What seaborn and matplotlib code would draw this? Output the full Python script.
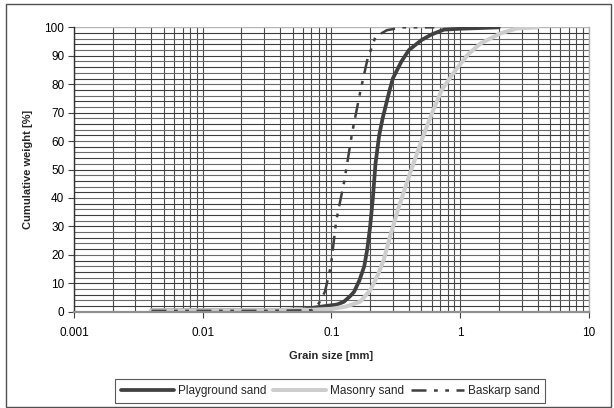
import matplotlib
matplotlib.use("Agg")
import matplotlib.pyplot as plt
import matplotlib.patches as mpatches
from matplotlib.ticker import FixedLocator, NullFormatter
import seaborn as sns
import pandas as pd
import numpy as np

sns.set_theme(style="white")
plt.rcParams['font.family'] = ['Liberation Sans', 'DejaVu Sans']

# ---- data ----
playground_x = [0.004, 0.03, 0.06, 0.075, 0.09, 0.11, 0.125, 0.14, 0.15, 0.165, 0.18, 0.19, 0.2, 0.21,
                0.22, 0.235, 0.25, 0.28, 0.3, 0.35, 0.4, 0.5, 0.6, 0.75, 1.0, 2.0]
playground_y = [0.5, 0.5, 0.8, 1.5, 2.0, 2.5, 3.5, 5.5, 7.0, 11.0, 16.0, 22.0, 30.0, 40.0,
                52.0, 62.0, 68.0, 77.0, 82.0, 88.0, 92.0, 95.5, 97.5, 99.2, 99.5, 100.0]

masonry_x = [0.004, 0.03, 0.07, 0.1, 0.13, 0.167, 0.2, 0.23, 0.254, 0.29, 0.335, 0.4, 0.5, 0.59,
             0.72, 0.89, 1.0, 1.17, 1.45, 2.07, 2.75, 4.0]
masonry_y = [0.5, 0.5, 0.7, 1.0, 1.8, 3.5, 7.5, 13.0, 18.0, 27.5, 37.0, 47.5, 60.0, 68.6,
             78.0, 84.0, 87.0, 90.8, 94.4, 97.9, 99.6, 100.0]

baskarp_x = [0.004, 0.03, 0.07, 0.08, 0.089, 0.099, 0.109, 0.126, 0.145, 0.167, 0.19, 0.22, 0.27,
             0.36, 0.63]
baskarp_y = [0.3, 0.3, 0.5, 3.0, 7.0, 16.0, 32.0, 46.0, 63.0, 77.0, 88.5, 96.7, 99.0,
             100.0, 100.0]

series_names = ["Playground sand", "Masonry sand", "Baskarp sand"]
x_ticks = [0.001, 0.01, 0.1, 1, 10]
x_tick_labels = ["0.001", "0.01", "0.1", "1", "10"]
y_ticks = [0, 10, 20, 30, 40, 50, 60, 70, 80, 90, 100]

fig = plt.figure(figsize=(6.14, 4.08), dpi=100)
ax = fig.add_axes([0.1205, 0.236, 0.8385, 0.697])

# grid
ax.set_xscale("log")
ax.set_xlim(0.001, 10)
ax.set_ylim(0, 100)
minor_v = [m * 10.0 ** e for e in range(-3, 1) for m in range(2, 10)]
for v in minor_v + x_ticks:
    ax.axvline(v, color="#4a4a4a", lw=0.8, zorder=0)
for i, h in enumerate(range(2, 100, 2)):
    ax.axhline(h, color="#3c3c3c" if i % 2 == 0 else "#6a6a6a", lw=0.8, zorder=0)
ax.axhline(100, color="#b5b5b5", lw=1.0, zorder=0)

sns.lineplot(x=playground_x, y=playground_y, ax=ax, color="#404040", lw=2.7,
             estimator=None, sort=False, label=series_names[0])
sns.lineplot(x=masonry_x, y=masonry_y, ax=ax, color="#cdcdcd", lw=2.9,
             estimator=None, sort=False, label=series_names[1])
sns.lineplot(x=baskarp_x, y=baskarp_y, ax=ax, color="#404040", lw=1.8,
             estimator=None, sort=False, label=series_names[2])
ax.lines[-1].set_linestyle((0, (6, 3, 1.5, 3, 1.5, 3)))

ax.xaxis.set_major_locator(FixedLocator(x_ticks))
ax.xaxis.set_minor_locator(FixedLocator(minor_v))
ax.xaxis.set_minor_formatter(NullFormatter())
ax.set_xticklabels(x_tick_labels)
ax.set_yticks(y_ticks)
ax.tick_params(axis="both", which="major", direction="out", length=4, width=0.8,
               color="#404040", labelsize=8.5, labelcolor="black", pad=3,
               bottom=True, left=True)
ax.tick_params(axis="x", which="minor", length=0)
ax.tick_params(axis="x", pad=7)

ax.spines["top"].set_visible(False)
ax.spines["left"].set_color("#303030")
ax.spines["left"].set_linewidth(1.0)
ax.spines["bottom"].set_color("#909090")
ax.spines["bottom"].set_linewidth(1.6)
ax.spines["right"].set_color("#b0b0b0")
ax.spines["right"].set_linewidth(1.0)

ax.set_xlabel("Grain size [mm]", fontsize=8, fontweight="bold", labelpad=9)
ax.set_ylabel("Cumulative weight [%]", fontsize=8, fontweight="bold", labelpad=8)

leg = ax.legend(loc="center", bbox_to_anchor=(0.538, 0.042),
                bbox_transform=fig.transFigure, ncol=3, frameon=True, fancybox=False,
                fontsize=8.5, handlelength=4.5, handletextpad=0.3, columnspacing=0.6,
                borderpad=0.5, borderaxespad=0)
leg.get_frame().set_edgecolor("#303030")
leg.get_frame().set_linewidth(0.8)

fig.patches.append(mpatches.Rectangle((0.009, 0.003), 0.986, 0.987, transform=fig.transFigure,
                                      fill=False, edgecolor="#505050", lw=1.0))

fig.savefig("out.png", dpi=100)
